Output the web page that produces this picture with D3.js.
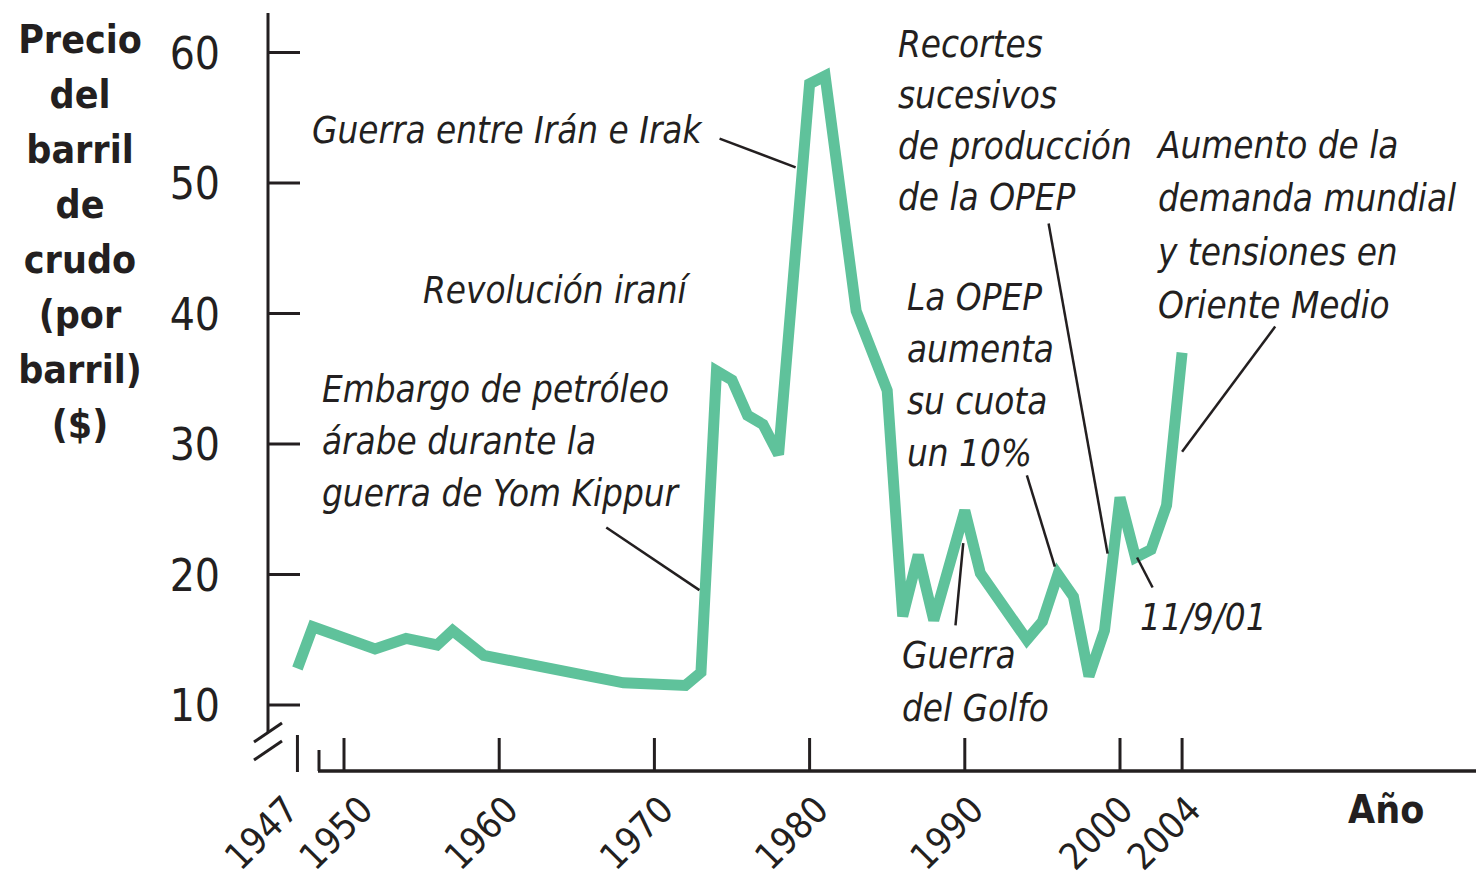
<!DOCTYPE html>
<html>
<head>
<meta charset="utf-8">
<script src="https://cdnjs.cloudflare.com/ajax/libs/d3/7.8.5/d3.min.js"></script>
<style>
  body { margin: 0; background: #fff; }
  svg { display: block; }
  .ann { font-family: "DejaVu Sans Condensed", "DejaVu Sans"; font-stretch: condensed; font-style: italic; font-size: 36.5px; fill: #231f20; }
  .ytick { font-family: "DejaVu Sans Condensed", "DejaVu Sans"; font-stretch: condensed; font-size: 44px; fill: #231f20; }
  .xtick { font-family: "DejaVu Sans Condensed", "DejaVu Sans"; font-stretch: condensed; font-size: 37px; fill: #231f20; }
  .title { font-family: "DejaVu Sans Condensed", "DejaVu Sans"; font-stretch: condensed; font-weight: bold; font-size: 39px; fill: #231f20; }
</style>
</head>
<body>
<div id="chart"></div>
<script>
// precio del barril, dolares
var years = [1947, 1948, 1952, 1954, 1956, 1957, 1959, 1968, 1972, 1973,
             1974, 1975, 1976, 1977, 1978, 1980, 1981, 1983, 1985, 1986,
             1987, 1988, 1990, 1991, 1994, 1995, 1996, 1997, 1998, 1999,
             2000, 2001, 2002, 2003, 2004];
var prices = [12.8, 16.0, 14.3, 15.1, 14.6, 15.7, 13.8, 11.7, 11.5, 12.5,
              35.6, 34.9, 32.2, 31.5, 29.2, 57.6, 58.2, 40.2, 34.1, 16.8,
              21.5, 16.5, 24.9, 20.1, 15.0, 16.4, 20.0, 18.3, 12.2, 15.7,
              25.9, 21.3, 21.9, 25.3, 37.0];

var yTicks = [10, 20, 30, 40, 50, 60];
var xTicks = [1947, 1950, 1960, 1970, 1980, 1990, 2000, 2004];
var yTitle = ["Precio", "del", "barril", "de", "crudo", "(por", "barril)", "($)"];
var xTitle = "Año";

// anotaciones: texto y linea guia (año, precio)
var annTexts = [
  ["Guerra entre Irán e Irak"],
  ["Revolución iraní"],
  ["Embargo de petróleo", "árabe durante la", "guerra de Yom Kippur"],
  ["Recortes", "sucesivos", "de producción", "de la OPEP"],
  ["La OPEP", "aumenta", "su cuota", "un 10%"],
  ["Guerra", "del Golfo"],
  ["11/9/01"],
  ["Aumento de la", "demanda mundial", "y tensiones en", "Oriente Medio"]
];
var annLeaders = [
  [[1974.2, 53.4], [1979.1, 51.2]],
  null,
  [[1966.9, 23.6], [1972.9, 18.8]],
  [[1995.4, 46.9], [1999.2, 21.6]],
  [[1994.0, 27.6], [1995.8, 20.6]],
  [[1989.9, 22.4], [1989.4, 16.1]],
  [[2001.1, 21.3], [2002.1, 19.0]],
  [[2010.0, 39.0], [2004.0, 29.4]]
];
// posicion del texto en pixeles: x, primera linea base, interlineado
var annPos = [
  [312, 143, 52], [423, 303, 52], [322, 402, 52], [898, 57, 51],
  [907, 310, 52], [902, 668, 53], [1140, 630, 52], [1158, 158, 53.3]
];

var W = 1476, H = 882;
var ink = "#231f20";

var svg = d3.select("#chart").append("svg")
  .attr("width", W).attr("height", H);

var x = d3.scaleLinear().domain([1950, 2000]).range([344, 1120]);
var y = d3.scaleLinear().domain([10, 60]).range([705, 52.5]);

// eje y
svg.append("line")
  .attr("x1", 268).attr("x2", 268).attr("y1", 13).attr("y2", 733)
  .style("stroke", ink).style("stroke-width", 3);

svg.selectAll(".yt").data(yTicks).enter().append("line")
  .attr("x1", 268).attr("x2", 300)
  .attr("y1", function(d) { return y(d); })
  .attr("y2", function(d) { return y(d); })
  .style("stroke", ink).style("stroke-width", 3);

svg.selectAll(".ytick").data(yTicks).enter().append("text")
  .attr("class", "ytick")
  .attr("x", 220)
  .attr("y", function(d) { return y(d) + 16; })
  .attr("text-anchor", "end")
  .text(function(d) { return d; });

// corte del eje
[0, 18].forEach(function(o) {
  svg.append("line")
    .attr("x1", 254).attr("y1", 742 + o).attr("x2", 282).attr("y2", 723 + o)
    .style("stroke", ink).style("stroke-width", 3);
});

// eje x
svg.append("line")
  .attr("x1", 318).attr("x2", W).attr("y1", 771).attr("y2", 771)
  .style("stroke", ink).style("stroke-width", 3.5);
svg.append("line")
  .attr("x1", 319).attr("x2", 319).attr("y1", 750).attr("y2", 771)
  .style("stroke", ink).style("stroke-width", 3);

svg.selectAll(".xt").data(xTicks).enter().append("line")
  .attr("x1", function(d) { return x(d); })
  .attr("x2", function(d) { return x(d); })
  .attr("y1", function(d) { return d == 1947 ? 735 : 738; })
  .attr("y2", function(d) { return d == 1947 ? 772 : 771; })
  .style("stroke", ink).style("stroke-width", 3);

var nudge = { 1947: -18, 1950: 10, 2000: -6 };
svg.selectAll(".xtick").data(xTicks).enter().append("text")
  .attr("class", "xtick")
  .attr("text-anchor", "end")
  .attr("transform", function(d) {
    var px = x(d) + 21 + (nudge[d] || 0);
    return "translate(" + px + ",812) rotate(-45)";
  })
  .text(function(d) { return d; });

// titulos
svg.selectAll(".ytitle").data(yTitle).enter().append("text")
  .attr("class", "title")
  .attr("x", 80)
  .attr("y", function(d, i) { return 53 + i * 55; })
  .attr("text-anchor", "middle")
  .text(function(d) { return d; });

svg.append("text").attr("class", "title")
  .attr("x", 1348).attr("y", 823)
  .text(xTitle);

// linea de precios
var line = d3.line()
  .x(function(d) { return x(d[0]); })
  .y(function(d) { return y(d[1]); });

svg.append("path")
  .datum(d3.zip(years, prices))
  .attr("d", line)
  .style("fill", "none")
  .style("stroke", "#5fc29b")
  .style("stroke-width", 11)
  .style("stroke-linejoin", "miter")
  .style("stroke-miterlimit", 3);

// anotaciones
annTexts.forEach(function(lines, i) {
  var p = annPos[i];
  var t = svg.append("text").attr("class", "ann");
  lines.forEach(function(s, j) {
    t.append("tspan").attr("x", p[0]).attr("y", p[1] + j * p[2]).text(s);
  });
  var l = annLeaders[i];
  if (l) {
    svg.append("line")
      .attr("x1", x(l[0][0])).attr("y1", y(l[0][1]))
      .attr("x2", x(l[1][0])).attr("y2", y(l[1][1]))
      .style("stroke", ink).style("stroke-width", 2.5);
  }
});
</script>
</body>
</html>
